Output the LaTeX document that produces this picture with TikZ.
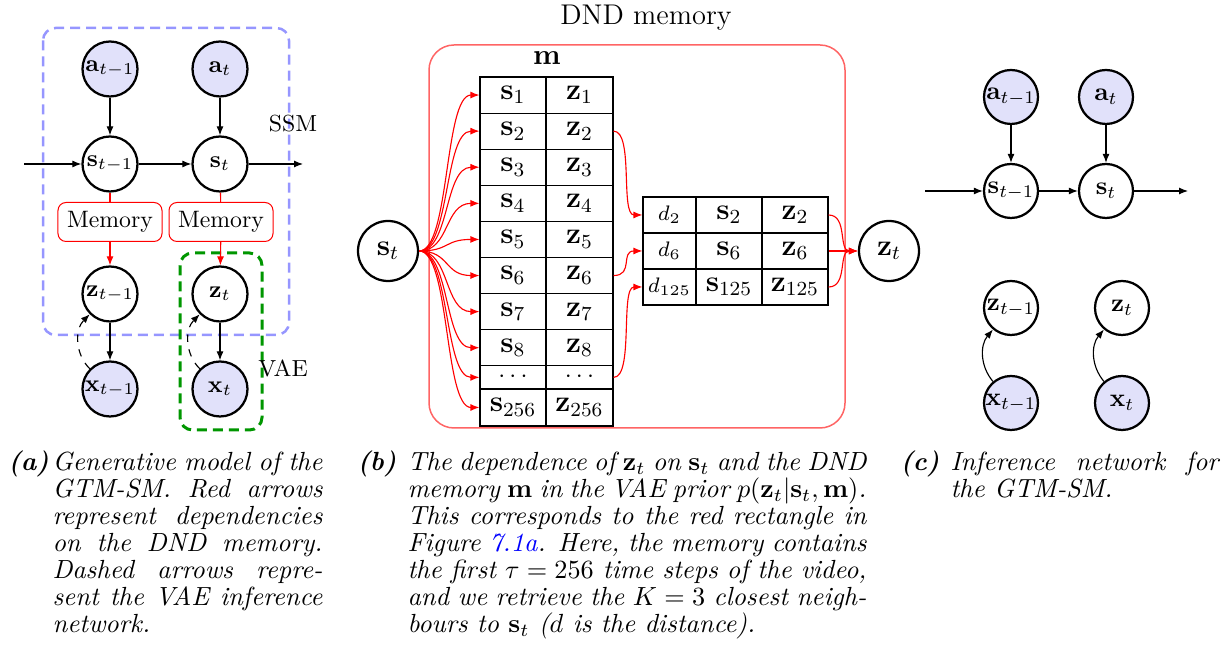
\RequirePackage{fix-cm}
\documentclass[tikz,border=0pt]{standalone}
\usetikzlibrary{arrows.meta}
\definecolor{nodefill}{RGB}{225,225,250}
\definecolor{ssmblue}{RGB}{150,150,255}
\definecolor{vaegreen}{RGB}{0,150,0}
\definecolor{memred}{RGB}{255,100,100}
\newcommand{\jl}[2]{\hbox to #1{#2}}
\tikzset{
  va/.style={circle,draw,line width=0.9pt,minimum size=22pt,inner sep=0pt,font=\fontsize{9.5}{11}\selectfont},
  obsa/.style={va,fill=nodefill},
  vc/.style={circle,draw,line width=0.9pt,minimum size=21.6pt,inner sep=0pt,font=\fontsize{10.2}{12}\selectfont},
  obsc/.style={vc,fill=nodefill},
  vb/.style={circle,draw,line width=0.9pt,minimum size=24pt,inner sep=0pt,font=\fontsize{12}{14}\selectfont},
  arr/.style={-{Latex[length=3.6pt,width=2.8pt]},line width=0.45pt},
  redarr/.style={arr,red},
  membox/.style={draw=red,rounded corners=3.2pt,minimum width=41.6pt,minimum height=15.6pt,inner sep=0pt,font=\fontsize{9.5}{11}\selectfont},
  cell/.style={draw,line width=0.45pt,minimum height=14.44pt,inner sep=0pt,font=\fontsize{12}{14}\selectfont},
  dotcell/.style={cell,minimum height=9.28pt,font=\fontsize{10}{12}\selectfont},
  dcell/.style={cell,minimum width=21.2pt,font=\fontsize{8.4}{10}\selectfont},
  capt/.style={inner sep=0pt,anchor=base west,font=\fontsize{10.5}{12}\selectfont\itshape},
  captlab/.style={inner sep=0pt,anchor=base west,font=\fontsize{10.5}{12}\selectfont\bfseries\itshape},
  lab/.style={inner sep=0pt,font=\fontsize{9.3}{11}\selectfont}
}
\begin{document}
\begin{tikzpicture}[x=0.4pt,y=-0.4pt]
\useasboundingbox (0,0) rectangle (1226,670);

% ---------------- panel (a) ----------------
\draw[ssmblue,line width=1pt,dash pattern=on 4pt off 2.4pt,rounded corners=5pt] (43,28) rectangle (289,335);
\draw[vaegreen,line width=1.2pt,dash pattern=on 4pt off 2.4pt,rounded corners=5pt] (180,253) rectangle (262,430);
\node[lab] (ssm) at (293,124) {SSM};
\node[lab] (vae) at (283,368) {VAE};

\node[obsa] (a1) at (110,69) {$\mathbf{a}_{t-1}$};
\node[obsa] (a2) at (220,69) {$\mathbf{a}_{t}$};
\node[va,fill=white] (s1) at (110,164) {$\mathbf{s}_{t-1}$};
\node[va,fill=white] (s2) at (220,164) {$\mathbf{s}_{t}$};
\node[membox,fill=white] (m1) at (110,222) {Memory};
\node[membox,fill=white] (m2) at (221,222) {Memory};
\node[va,fill=white] (z1) at (110,294) {$\mathbf{z}_{t-1}$};
\node[va,fill=white] (z2) at (220,294) {$\mathbf{z}_{t}$};
\node[obsa] (x1) at (110,389) {$\mathbf{x}_{t-1}$};
\node[obsa] (x2) at (220,389) {$\mathbf{x}_{t}$};
\coordinate (inA) at (24,164);
\coordinate (outA) at (303,164);

\draw[arr] (inA) -- (s1);
\draw[arr] (s1) -- (s2);
\draw[arr] (s2) -- (outA);
\draw[arr] (a1) -- (s1);
\draw[arr] (a2) -- (s2);
\draw[red,line width=0.45pt] (s1) -- (m1);
\draw[red,line width=0.45pt] (s2) -- (m2);
\draw[redarr] (m1) -- (z1);
\draw[redarr] (m2) -- (z2);
\draw[arr] (z1) -- (x1);
\draw[arr] (z2) -- (x2);
\draw[arr,dashed] (x1.135) to[bend left=45] (z1.225);
\draw[arr,dashed] (x2.135) to[bend left=45] (z2.225);

% ---------------- panel (b) ----------------
\node[inner sep=0pt,anchor=base,font=\fontsize{11.4}{13}\selectfont] (title) at (646,25) {DND memory};
\draw[memred,line width=0.6pt,rounded corners=10pt] (429,45) rectangle (845,428);
\node[inner sep=0pt,font=\fontsize{11.5}{13}\selectfont] (mlab) at (547,58) {$\mathbf{m}$};

\foreach \i/\y/\h/\sv/\zv in {
  1/95.05/14.44/{\mathbf{s}_1}/{\mathbf{z}_1},
  2/131.15/14.44/{\mathbf{s}_2}/{\mathbf{z}_2},
  3/167.25/14.44/{\mathbf{s}_3}/{\mathbf{z}_3},
  4/203.35/14.44/{\mathbf{s}_4}/{\mathbf{z}_4},
  5/239.45/14.44/{\mathbf{s}_5}/{\mathbf{z}_5},
  6/275.55/14.44/{\mathbf{s}_6}/{\mathbf{z}_6},
  7/311.65/14.44/{\mathbf{s}_7}/{\mathbf{z}_7},
  8/347.75/14.44/{\mathbf{s}_8}/{\mathbf{z}_8},
  10/407.5/14.8/{\mathbf{s}_{256}}/{\mathbf{z}_{256}}}{
  \node[cell,minimum width=26.4pt,minimum height=\h pt] (sc\i) at (513,\y) {$\sv$};
  \node[cell,minimum width=26.8pt,minimum height=\h pt] (zc\i) at (579.5,\y) {$\zv$};
}
\node[dotcell,minimum width=26.4pt] (sc9) at (513,377.4) {$\cdots$};
\node[dotcell,minimum width=26.8pt] (zc9) at (579.5,377.4) {$\cdots$};

\node[vb] (st) at (388,251) {$\mathbf{s}_t$};
\foreach \i/\y in {1/95.05,2/131.15,3/167.25,4/203.35,5/239.45,6/275.55,7/311.65,8/347.75,9/377.4,10/407.5}{
  \draw[redarr] (st.east) .. controls (450,251) and (444,\y) .. (sc\i.west);
}

\node[dcell] (dd1) at (669.5,215) {$d_2$};
\node[dcell] (dd2) at (669.5,251) {$d_6$};
\node[dcell] (dd3) at (669.5,287) {$d_{125}$};
\node[cell,minimum width=26.4pt] (ss1) at (729,215) {$\mathbf{s}_2$};
\node[cell,minimum width=26.4pt] (ss2) at (729,251) {$\mathbf{s}_6$};
\node[cell,minimum width=26.4pt] (ss3) at (729,287) {$\mathbf{s}_{125}$};
\node[cell,minimum width=26.4pt] (zz1) at (795,215) {$\mathbf{z}_2$};
\node[cell,minimum width=26.4pt] (zz2) at (795,251) {$\mathbf{z}_6$};
\node[cell,minimum width=26.4pt] (zz3) at (795,287) {$\mathbf{z}_{125}$};

\draw[redarr] (zc2.east) .. controls (634,131.15) and (620,215) .. (dd1.west);
\draw[redarr] (zc6.east) .. controls (634,275.55) and (620,251) .. (dd2.west);
\draw[redarr] (zc9.east) .. controls (634,377.4) and (620,287) .. (dd3.west);

\node[vb] (zt) at (889,251) {$\mathbf{z}_t$};
\draw[redarr] (zz1.east) .. controls (848,215) and (838,251) .. (zt.west);
\draw[redarr] (zz2.east) -- (zt.west);
\draw[redarr] (zz3.east) .. controls (848,287) and (838,251) .. (zt.west);

% ---------------- panel (c) ----------------
\node[obsc] (ca1) at (1011,97) {$\mathbf{a}_{t-1}$};
\node[obsc] (ca2) at (1106,97) {$\mathbf{a}_{t}$};
\node[vc] (cs1) at (1011,191) {$\mathbf{s}_{t-1}$};
\node[vc] (cs2) at (1106,191) {$\mathbf{s}_{t}$};
\node[vc] (cz1) at (1011,308) {$\mathbf{z}_{t-1}$};
\node[vc] (cz2) at (1122,308) {$\mathbf{z}_{t}$};
\node[obsc] (cx1) at (1011,403) {$\mathbf{x}_{t-1}$};
\node[obsc] (cx2) at (1122,403) {$\mathbf{x}_{t}$};
\coordinate (inC) at (925,191);
\coordinate (outC) at (1188,191);
\draw[arr] (inC) -- (cs1);
\draw[arr] (cs1) -- (cs2);
\draw[arr] (cs2) -- (outC);
\draw[arr] (ca1) -- (cs1);
\draw[arr] (ca2) -- (cs2);
\draw[arr] (cx1.130) to[bend left=40] (cz1.230);
\draw[arr] (cx2.130) to[bend left=40] (cz2.230);

% ---------------- captions ----------------
\node[captlab] (la) at (8,471) {(a)};
\node[capt] (a1l) at (52,471) {\jl{108pt}{Generative model of the}};
\node[capt] (a2l) at (52,498) {\jl{108pt}{GTM-SM. Red arrows}};
\node[capt] (a3l) at (52,525) {\jl{108pt}{represent dependencies}};
\node[capt] (a4l) at (52,552) {\jl{108pt}{on the DND memory.}};
\node[capt] (a5l) at (52,579) {\jl{108pt}{Dashed arrows repre-}};
\node[capt] (a6l) at (52,606) {\jl{108pt}{sent the VAE inference}};
\node[capt] (a7l) at (52,633) {network.};

\node[captlab] (lb) at (357,471) {(b)};
\node[capt] (b1l) at (407,471) {\jl{183.6pt}{The dependence of $\mathbf{z}_t$ on $\mathbf{s}_t$ and the DND}};
\node[capt] (b2l) at (407,498) {\jl{183.6pt}{memory $\mathbf{m}$ in the VAE prior $p(\mathbf{z}_t|\mathbf{s}_t,\mathbf{m})$.}};
\node[capt] (b3l) at (407,525) {\jl{183.6pt}{This corresponds to the red rectangle in}};
\node[capt] (b4l) at (407,552) {\jl{183.6pt}{Figure \textcolor{blue}{7.1a}. Here, the memory contains}};
\node[capt] (b5l) at (407,579) {\jl{183.6pt}{the first $\tau=256$ time steps of the video,}};
\node[capt] (b6l) at (407,606) {\jl{183.6pt}{and we retrieve the $K=3$ closest neigh-}};
\node[capt] (b7l) at (407,633) {bours to $\mathbf{s}_t$ ($d$ is the distance).};

\node[captlab] (lc) at (900,471) {(c)};
\node[capt] (c1l) at (950,471) {\jl{107.2pt}{Inference network for}};
\node[capt] (c2l) at (950,498) {the GTM-SM.};
\end{tikzpicture}
\end{document}
